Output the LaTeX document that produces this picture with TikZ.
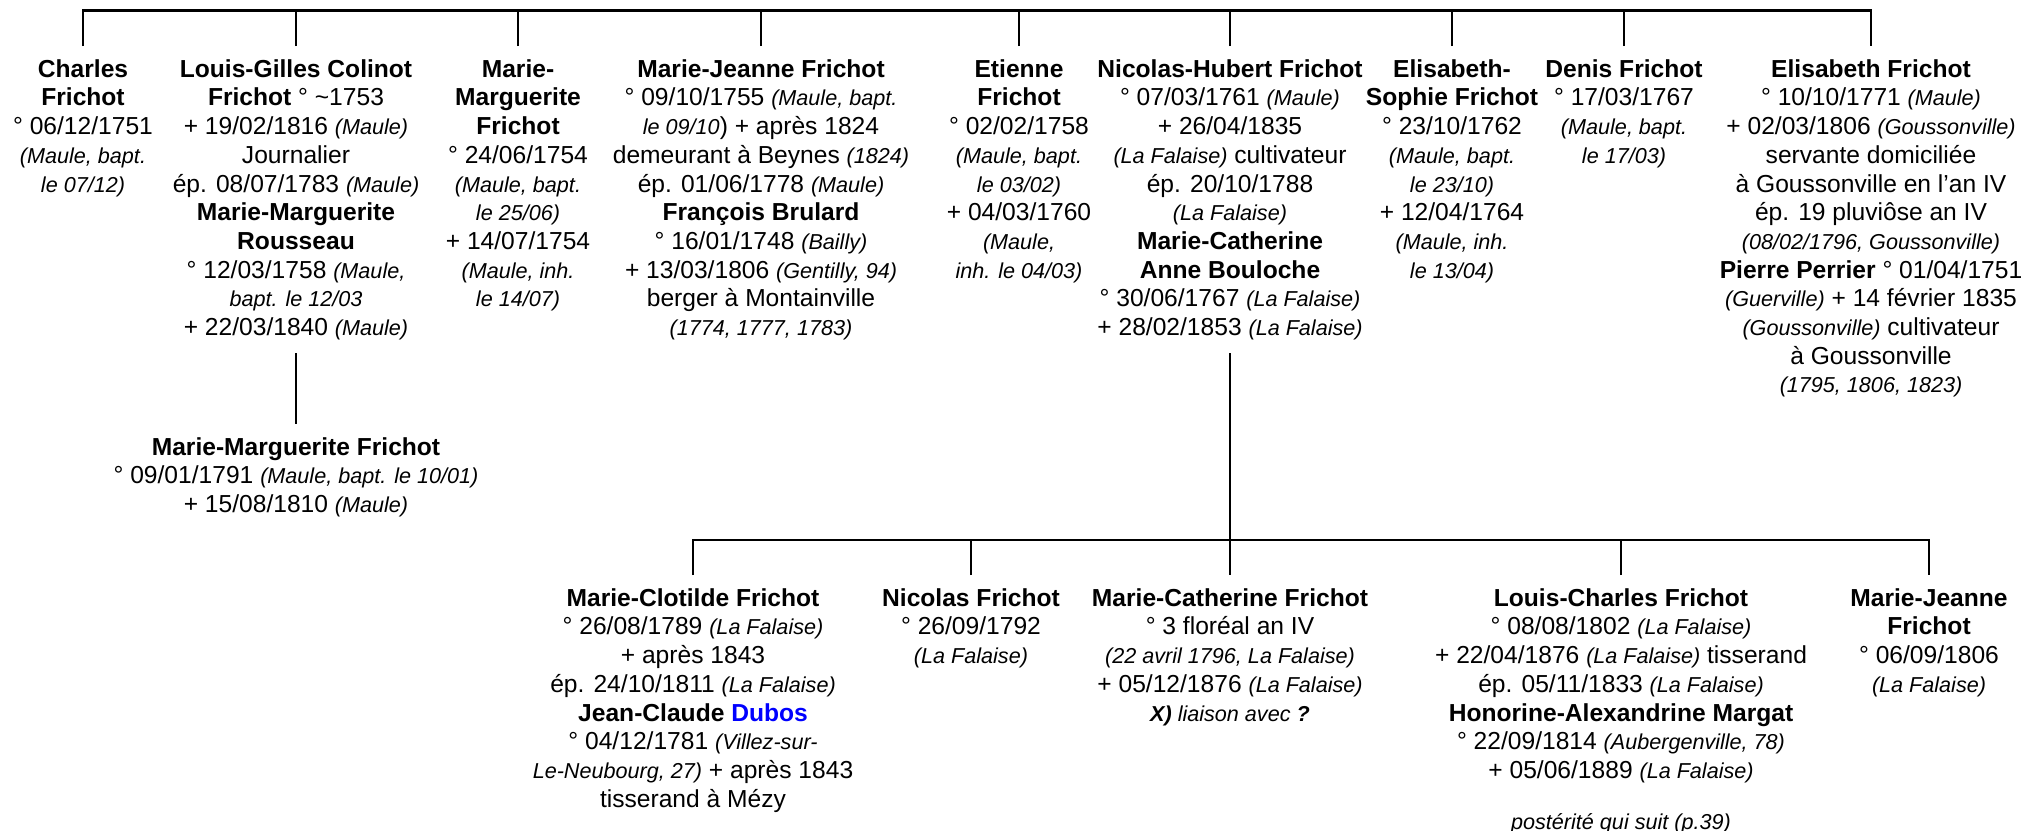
\documentclass[tikz,border=0pt]{standalone}
\usepackage{fontspec}
\setmainfont{Liberation Sans}
\newcommand{\pl}[1]{{\fontsize{10.8}{14.35}\selectfont\itshape #1}}

\begin{document}
\begin{tikzpicture}[x=0.5pt, y=-0.5pt, line width=1.4pt, person/.style={anchor=north, align=center, inner xsep=0pt, inner ysep=6pt, font=\fontsize{12.3}{14.35}\selectfont}]
	\useasboundingbox (0, 0) rectangle (2028, 830);
	\coordinate (top) at (1230, 10.5);
	\coordinate (mid) at (1230, 540);
	\node [person] (c1) at (83, 46) {\textbf{Charles}\\ \textbf{Frichot}\\ ° 06/12/1751\\ \pl{(Maule, bapt.}\\ \pl{le 07/12)}};
	\node [person] (c2) at (296, 46) {\textbf{Louis-Gilles Colinot}\\ \textbf{Frichot} ° \textasciitilde1753\\ + 19/02/1816 \pl{(Maule)}\\ Journalier\\ ép. 08/07/1783 \pl{(Maule)}\\ \textbf{Marie-Marguerite}\\ \textbf{Rousseau}\\ ° 12/03/1758 \pl{(Maule,}\\ \pl{bapt. le 12/03}\\ + 22/03/1840 \pl{(Maule)}};
	\node [person] (c3) at (518, 46) {\textbf{Marie-}\\ \textbf{Marguerite}\\ \textbf{Frichot}\\ ° 24/06/1754\\ \pl{(Maule, bapt.}\\ \pl{le 25/06)}\\ + 14/07/1754\\ \pl{(Maule, inh.}\\ \pl{le 14/07)}};
	\node [person] (c4) at (761, 46) {\textbf{Marie-Jeanne Frichot}\\ ° 09/10/1755 \pl{(Maule, bapt.}\\ \pl{le 09/10}) + après 1824\\ demeurant à Beynes \pl{(1824)}\\ ép. 01/06/1778 \pl{(Maule)}\\ \textbf{François Brulard}\\ ° 16/01/1748 \pl{(Bailly)}\\ + 13/03/1806 \pl{(Gentilly, 94)}\\ berger à Montainville\\ \pl{(1774, 1777, 1783)}};
	\node [person] (c5) at (1019, 46) {\textbf{Etienne}\\ \textbf{Frichot}\\ ° 02/02/1758\\ \pl{(Maule, bapt.}\\ \pl{le 03/02)}\\ + 04/03/1760\\ \pl{(Maule,}\\ \pl{inh. le 04/03)}};
	\node [person] (c6) at (1230, 46) {\textbf{Nicolas-Hubert Frichot}\\ ° 07/03/1761 \pl{(Maule)}\\ + 26/04/1835\\ \pl{(La Falaise)} cultivateur\\ ép. 20/10/1788\\ \pl{(La Falaise)}\\ \textbf{Marie-Catherine}\\ \textbf{Anne Bouloche}\\ ° 30/06/1767 \pl{(La Falaise)}\\ + 28/02/1853 \pl{(La Falaise)}};
	\node [person] (c7) at (1452, 46) {\textbf{Elisabeth-}\\ \textbf{Sophie Frichot}\\ ° 23/10/1762\\ \pl{(Maule, bapt.}\\ \pl{le 23/10)}\\ + 12/04/1764\\ \pl{(Maule, inh.}\\ \pl{le 13/04)}};
	\node [person] (c8) at (1624, 46) {\textbf{Denis Frichot}\\ ° 17/03/1767\\ \pl{(Maule, bapt.}\\ \pl{le 17/03)}};
	\node [person] (c9) at (1871, 46) {\textbf{Elisabeth Frichot}\\ ° 10/10/1771 \pl{(Maule)}\\ + 02/03/1806 \pl{(Goussonville)}\\ servante domiciliée\\ à Goussonville en l’an IV\\ ép. 19 pluviôse an IV\\ \pl{(08/02/1796, Goussonville)}\\ \textbf{Pierre Perrier} ° 01/04/1751\\ \pl{(Guerville)} + 14 février 1835\\ \pl{(Goussonville)} cultivateur\\ à Goussonville\\ \pl{(1795, 1806, 1823)}};
	\node [person] (g1) at (296, 424) {\textbf{Marie-Marguerite Frichot}\\ ° 09/01/1791 \pl{(Maule, bapt. le 10/01)}\\ + 15/08/1810 \pl{(Maule)}};
	\node [person] (d1) at (693, 575) {\textbf{Marie-Clotilde Frichot}\\ ° 26/08/1789 \pl{(La Falaise)}\\ + après 1843\\ ép. 24/10/1811 \pl{(La Falaise)}\\ \textbf{Jean-Claude \textcolor{blue}{Dubos}}\\ ° 04/12/1781 \pl{(Villez-sur-}\\ \pl{Le-Neubourg, 27)} + après 1843\\ tisserand à Mézy};
	\node [person] (d2) at (971, 575) {\textbf{Nicolas Frichot}\\ ° 26/09/1792\\ \pl{(La Falaise)}};
	\node [person] (d3) at (1230, 575) {\textbf{Marie-Catherine Frichot}\\ ° 3 floréal an IV\\ \pl{(22 avril 1796, La Falaise)}\\ + 05/12/1876 \pl{(La Falaise)}\\ \pl{\textbf{X)} liaison avec \textbf{?}}};
	\node [person] (d4) at (1621, 575) {\textbf{Louis-Charles Frichot}\\ ° 08/08/1802 \pl{(La Falaise)}\\ + 22/04/1876 \pl{(La Falaise)} tisserand\\ ép. 05/11/1833 \pl{(La Falaise)}\\ \textbf{Honorine-Alexandrine Margat}\\ ° 22/09/1814 \pl{(Aubergenville, 78)}\\ + 05/06/1889 \pl{(La Falaise)}\\[11pt] \pl{postérité qui suit (p.39)}};
	\node [person] (d5) at (1929, 575) {\textbf{Marie-Jeanne}\\ \textbf{Frichot}\\ ° 06/09/1806\\ \pl{(La Falaise)}};
	\draw (c1.north) |- (top) -| (c9.north);
	\draw (c2.north) -- (c2.north |- top);
	\draw (c3.north) -- (c3.north |- top);
	\draw (c4.north) -- (c4.north |- top);
	\draw (c5.north) -- (c5.north |- top);
	\draw (c6.north) -- (c6.north |- top);
	\draw (c7.north) -- (c7.north |- top);
	\draw (c8.north) -- (c8.north |- top);
	\draw (c2.south) -- (g1.north);
	\draw (c6.south) -- (d3.north);
	\draw (d1.north) |- (mid) -| (d5.north);
	\draw (d2.north) -- (d2.north |- mid);
	\draw (d4.north) -- (d4.north |- mid);
\end{tikzpicture}
\end{document}
